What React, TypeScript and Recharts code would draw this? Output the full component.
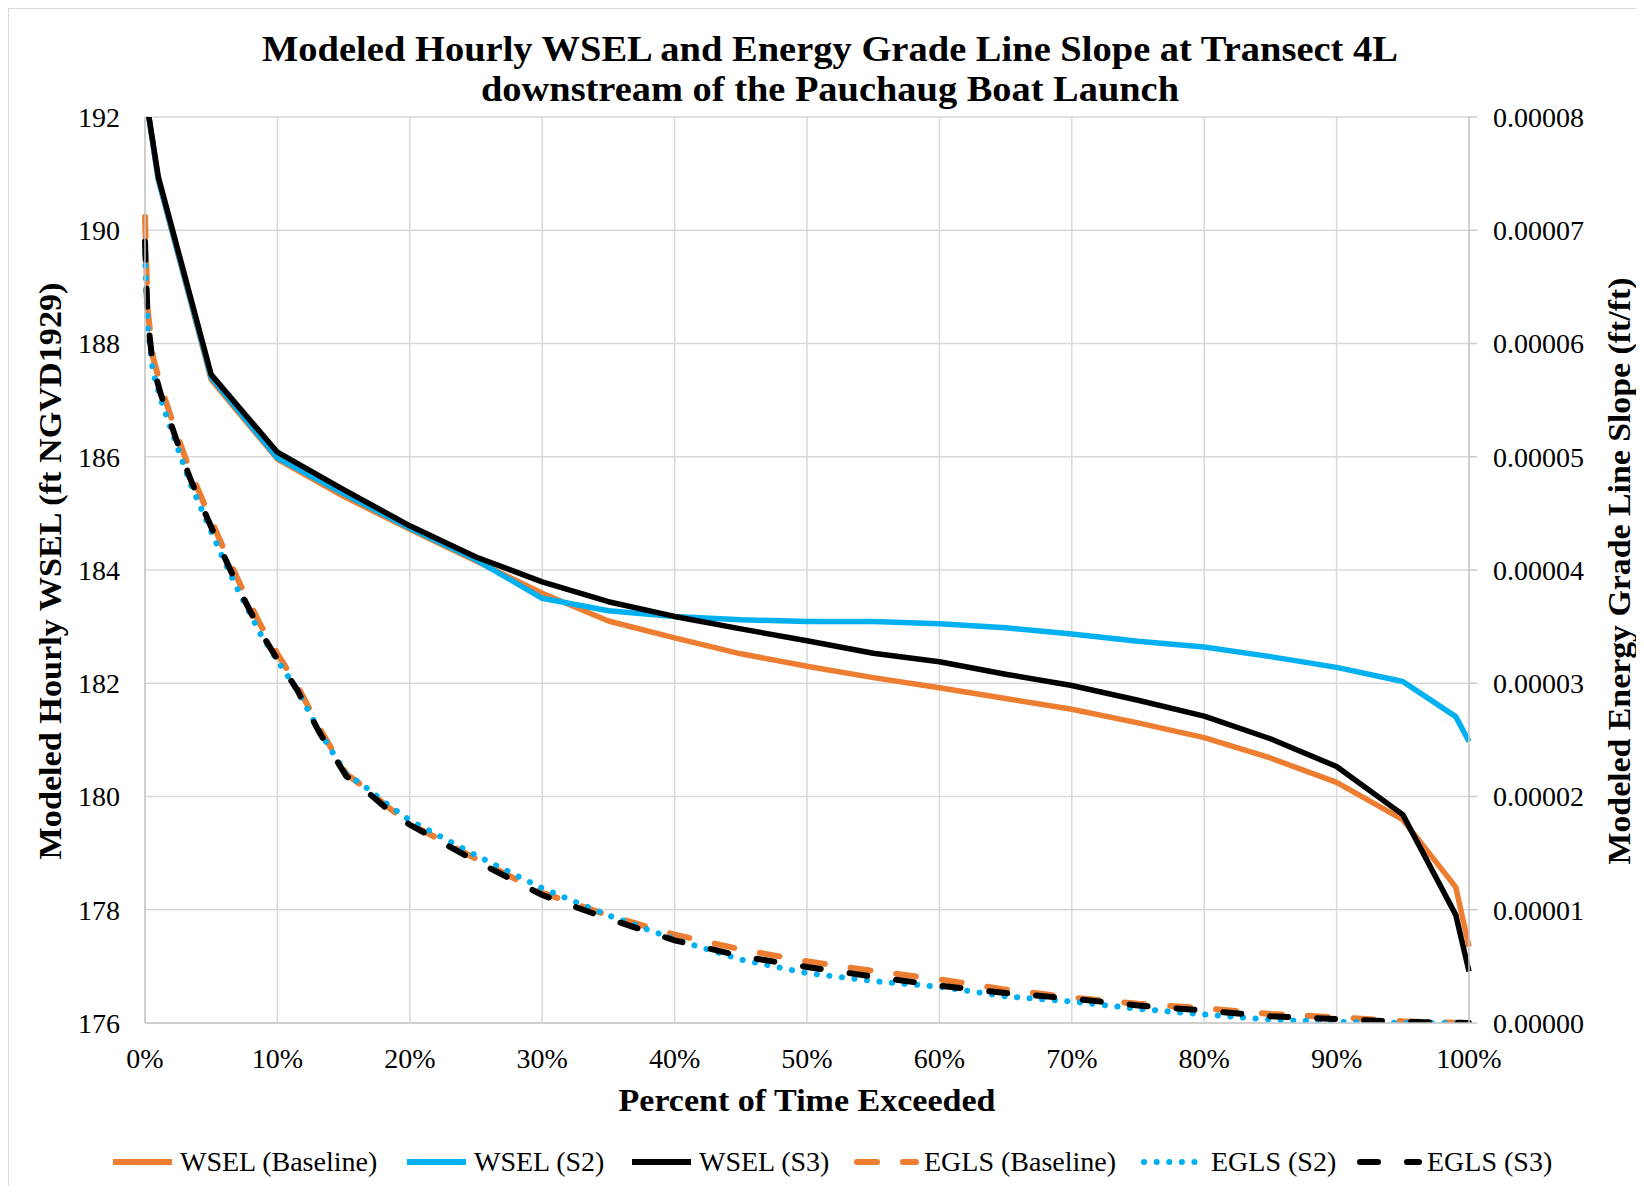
import React from 'react';
import { LineChart, Line, XAxis, YAxis, CartesianGrid } from 'recharts';

// Water surface elevation (ft NGVD1929) by percent of time exceeded
const wselPct = [0, 1, 5, 10, 15, 20, 25, 30, 35, 40, 45, 50, 55, 60, 65, 70, 75, 80, 85, 90, 95, 99, 100];
const wselBaseline = [192.45, 190.9, 187.36, 185.96, 185.3, 184.72, 184.16, 183.59, 183.1, 182.8, 182.52, 182.3, 182.1, 181.92, 181.73, 181.54, 181.3, 181.04, 180.68, 180.25, 179.59, 178.4, 177.35];
const wselS2 = [192.45, 190.9, 187.4, 185.98, 185.35, 184.74, 184.18, 183.5, 183.28, 183.18, 183.12, 183.09, 183.09, 183.05, 182.98, 182.87, 182.74, 182.64, 182.47, 182.28, 182.03, 181.41, 180.97];
const wselS3 = [192.45, 190.95, 187.45, 186.08, 185.42, 184.78, 184.23, 183.79, 183.44, 183.18, 182.96, 182.75, 182.53, 182.38, 182.16, 181.96, 181.7, 181.42, 181.02, 180.53, 179.68, 177.91, 176.91];

// Energy grade line slope (ft/ft) by percent of time exceeded
const eglsPct = [0, 0.2, 0.6, 1.2, 2.4, 3.4, 4.7, 5.9, 7.2, 8.7, 10, 11.5, 13.2, 15.2, 16.7, 18.2, 20, 25, 30, 35, 40, 45, 50, 55, 60, 65, 70, 75, 80, 85, 90, 95, 100];
const eglsBaseline = [7.12e-5, 6.3e-5, 5.88e-5, 5.62e-5, 5.2e-5, 4.88e-5, 4.52e-5, 4.2e-5, 3.87e-5, 3.52e-5, 3.26e-5, 2.98e-5, 2.6e-5, 2.2e-5, 2.07e-5, 1.92e-5, 1.76e-5, 1.45e-5, 1.15e-5, 0.95e-5, 0.78e-5, 0.65e-5, 0.545e-5, 0.46e-5, 0.385e-5, 0.295e-5, 0.225e-5, 0.17e-5, 0.13e-5, 0.08e-5, 0.05e-5, 0.015e-5, 0];
const eglsS2 = [6.8e-5, 6.15e-5, 5.75e-5, 5.5e-5, 5.1e-5, 4.77e-5, 4.42e-5, 4.1e-5, 3.78e-5, 3.44e-5, 3.2e-5, 2.94e-5, 2.57e-5, 2.2e-5, 2.08e-5, 1.94e-5, 1.79e-5, 1.48e-5, 1.19e-5, 0.95e-5, 0.74e-5, 0.56e-5, 0.44e-5, 0.37e-5, 0.32e-5, 0.235e-5, 0.19e-5, 0.125e-5, 0.075e-5, 0.03e-5, 0.01e-5, 0, 0];
const eglsS3 = [6.9e-5, 6.22e-5, 5.8e-5, 5.55e-5, 5.14e-5, 4.81e-5, 4.46e-5, 4.14e-5, 3.81e-5, 3.46e-5, 3.21e-5, 2.94e-5, 2.56e-5, 2.18e-5, 2.05e-5, 1.9e-5, 1.75e-5, 1.43e-5, 1.13e-5, 0.92e-5, 0.73e-5, 0.59e-5, 0.495e-5, 0.41e-5, 0.33e-5, 0.265e-5, 0.215e-5, 0.155e-5, 0.11e-5, 0.06e-5, 0.035e-5, 0.01e-5, 0];

const pctTicks = [0, 10, 20, 30, 40, 50, 60, 70, 80, 90, 100];
const wselTicks = [176, 178, 180, 182, 184, 186, 188, 190, 192];
const eglsTicks = [0, 1e-5, 2e-5, 3e-5, 4e-5, 5e-5, 6e-5, 7e-5, 8e-5];

const titleLines = [
  'Modeled Hourly WSEL and Energy Grade Line Slope at Transect 4L',
  'downstream of the Pauchaug Boat Launch',
];
const xTitle = 'Percent of Time Exceeded';
const yLeftTitle = 'Modeled Hourly WSEL (ft NGVD1929)';
const yRightTitle = 'Modeled Energy Grade Line Slope (ft/ft)';

const ORANGE = '#ED7D31';
const BLUE = '#00B0F0';
const BLACK = '#000000';
const GRID = '#D9D9D9';
const FONT = '"Liberation Serif", "Times New Roman", serif';

const wselData = wselPct.map((p, i) => ({ pct: p, base: wselBaseline[i], s2: wselS2[i], s3: wselS3[i] }));
const eglsData = eglsPct.map((p, i) => ({ pct: p, base: eglsBaseline[i], s2: eglsS2[i], s3: eglsS3[i] }));

const legendItems = [
  { label: 'WSEL (Baseline)', color: ORANGE, dash: undefined as string | undefined, x: 101 },
  { label: 'WSEL (S2)', color: BLUE, dash: undefined, x: 395 },
  { label: 'WSEL (S3)', color: BLACK, dash: undefined, x: 620 },
  { label: 'EGLS (Baseline)', color: ORANGE, dash: '20 26', x: 845 },
  { label: 'EGLS (S2)', color: BLUE, dash: '0.1 12.5', x: 1132 },
  { label: 'EGLS (S3)', color: BLACK, dash: '18 29', x: 1348 },
];

const W = 1626;
const H = 1177;

const tickStyle = { fill: '#000', fontSize: 28, fontFamily: FONT };

export default function App() {
  return (
    <div
      style={{
        position: 'relative',
        width: 1628,
        height: 1178,
        borderTop: `1px solid ${GRID}`,
        borderLeft: `1px solid ${GRID}`,
        boxSizing: 'border-box',
        background: '#fff',
        fontFamily: FONT,
      }}
    >
      <LineChart width={W} height={H} margin={{ top: 108, right: 46, left: 56, bottom: 123 }}>
        <CartesianGrid yAxisId="left" stroke={GRID} strokeWidth={1.5} horizontalValues={wselTicks} verticalValues={pctTicks} />
        <XAxis
          dataKey="pct"
          type="number"
          domain={[0, 100]}
          ticks={pctTicks}
          tickFormatter={(v: number) => `${v}%`}
          allowDuplicatedCategory={false}
          height={40}
          tick={tickStyle}
          tickLine={false}
          tickSize={6}
          tickMargin={19}
          axisLine={{ stroke: '#C8C8C8', strokeWidth: 1.5 }}
        />
        <YAxis
          yAxisId="left"
          orientation="left"
          domain={[176, 192]}
          ticks={wselTicks}
          allowDataOverflow
          width={80}
          tick={tickStyle}
          tickLine={false}
          tickSize={6}
          tickMargin={19}
          axisLine={{ stroke: '#C8C8C8', strokeWidth: 1.5 }}
        />
        <YAxis
          yAxisId="right"
          orientation="right"
          domain={[0, 8e-5]}
          ticks={eglsTicks}
          allowDataOverflow
          tickFormatter={(v: number) => v.toFixed(5)}
          width={120}
          tick={tickStyle}
          tickLine={{ stroke: '#C8C8C8', strokeWidth: 1.5 }}
          tickSize={8}
          tickMargin={16}
          axisLine={{ stroke: '#C8C8C8', strokeWidth: 1.5 }}
        />
        <Line data={wselData} dataKey="base" yAxisId="left" type="linear" stroke={ORANGE} strokeWidth={5.5} dot={false} strokeLinejoin="round" isAnimationActive={false} />
        <Line data={wselData} dataKey="s2" yAxisId="left" type="linear" stroke={BLUE} strokeWidth={5.5} dot={false} strokeLinejoin="round" isAnimationActive={false} />
        <Line data={wselData} dataKey="s3" yAxisId="left" type="linear" stroke={BLACK} strokeWidth={5.5} dot={false} strokeLinejoin="round" isAnimationActive={false} />
        <Line data={eglsData} dataKey="base" yAxisId="right" type="linear" stroke={ORANGE} strokeWidth={6} strokeDasharray="20 26" strokeLinecap="round" dot={false} isAnimationActive={false} />
        <Line data={eglsData} dataKey="s2" yAxisId="right" type="linear" stroke={BLUE} strokeWidth={6} strokeDasharray="0.1 12.5" strokeLinecap="round" dot={false} isAnimationActive={false} />
        <Line data={eglsData} dataKey="s3" yAxisId="right" type="linear" stroke={BLACK} strokeWidth={6} strokeDasharray="18 29" strokeLinecap="round" dot={false} isAnimationActive={false} />
      </LineChart>

      <svg
        width={1627}
        height={1177}
        style={{ position: 'absolute', left: 0, top: 0, pointerEvents: 'none', overflow: 'visible' }}
        fontFamily={FONT}
      >
        <text x={821} y={52} textAnchor="middle" fontSize={36} fontWeight="bold" textLength={1136} lengthAdjust="spacingAndGlyphs">
          {titleLines[0]}
        </text>
        <text x={821} y={92} textAnchor="middle" fontSize={36} fontWeight="bold" textLength={698} lengthAdjust="spacingAndGlyphs">
          {titleLines[1]}
        </text>
        <text x={798} y={1102} textAnchor="middle" fontSize={32} fontWeight="bold" textLength={377} lengthAdjust="spacingAndGlyphs">
          {xTitle}
        </text>
        <text transform="translate(52,562) rotate(-90)" textAnchor="middle" fontSize={32} fontWeight="bold" textLength={577} lengthAdjust="spacingAndGlyphs">
          {yLeftTitle}
        </text>
        <text transform="translate(1621,562) rotate(-90)" textAnchor="middle" fontSize={32} fontWeight="bold" textLength={587} lengthAdjust="spacingAndGlyphs">
          {yRightTitle}
        </text>
        {legendItems.map((it) => (
          <g key={it.label}>
            <line
              x1={it.x + 3}
              x2={it.x + 62}
              y1={1153}
              y2={1153}
              stroke={it.color}
              strokeWidth={6}
              strokeDasharray={it.dash}
              strokeLinecap={it.dash ? 'round' : 'butt'}
            />
            <text x={it.x + 70} y={1162} fontSize={28} fill="#000">
              {it.label}
            </text>
          </g>
        ))}
      </svg>
    </div>
  );
}
